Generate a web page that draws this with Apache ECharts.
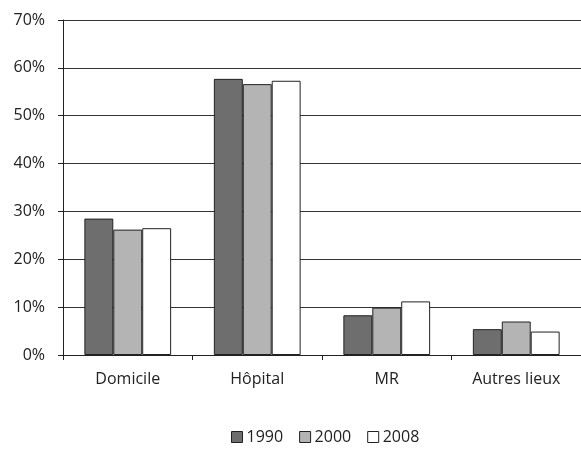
<!DOCTYPE html>
<html>
<head>
<meta charset="utf-8">
<script src="https://cdn.jsdelivr.net/npm/echarts@6/dist/echarts.min.js"></script>
<style>
  html, body { margin: 0; padding: 0; background: #fff; }
  #chart { width: 581px; height: 450px; }
</style>
</head>
<body>
<div id="chart"></div>
<script>
    // données (en %)
    var categories = ['Domicile', 'Hôpital', 'MR', 'Autres lieux'];
    var annees = ['1990', '2000', '2008'];
    var v1990 = [28.5, 57.7, 8.3, 5.4];
    var v2000 = [26.2, 56.6, 9.9, 7.0];
    var v2008 = [26.5, 57.3, 11.2, 4.9];
    var yTicks = [0, 10, 20, 30, 40, 50, 60, 70];

    var couleurs = ['#6e6e6e', '#b4b4b4', '#ffffff'];
    var valeurs = [v1990, v2000, v2008];

    var myChart = echarts.init(document.getElementById('chart'));

    var series = annees.map(function (a, i) {
        return {
            name: a,
            type: 'bar',
            barGap: '0%',
            barCategoryGap: '33%',
            data: valeurs[i],
            itemStyle: {
                color: couleurs[i],
                borderColor: '#222',
                borderWidth: 1
            }
        };
    });

    var option = {
        animation: false,
        textStyle: { fontFamily: 'Open Sans' },
        grid: {
            left: 63,
            right: -8,
            top: 20,
            bottom: 95
        },
        legend: {
            data: annees,
            left: 226,
            bottom: 0,
            itemWidth: 11,
            itemHeight: 11,
            itemGap: 16,
            icon: 'rect',
            textStyle: { fontSize: 16, color: '#222', padding: [0, 0, 0, -1] },
            itemStyle: { borderColor: '#222', borderWidth: 1 }
        },
        xAxis: {
            type: 'category',
            data: categories,
            axisLine: { lineStyle: { color: '#222', width: 1 } },
            axisTick: { show: true, length: 5, lineStyle: { color: '#222' } },
            axisLabel: { fontSize: 16, color: '#222', margin: 16 }
        },
        yAxis: {
            type: 'value',
            min: yTicks[0],
            max: yTicks[yTicks.length - 1],
            interval: 10,
            axisLine: { show: true, lineStyle: { color: '#222', width: 1 } },
            axisTick: { show: true, length: 5, lineStyle: { color: '#222' } },
            axisLabel: { fontSize: 16, color: '#222', margin: 18, formatter: '{value}%' },
            splitLine: { lineStyle: { color: '#333', width: 1 } }
        },
        series: series
    };

    myChart.setOption(option);
</script>
</body>
</html>
